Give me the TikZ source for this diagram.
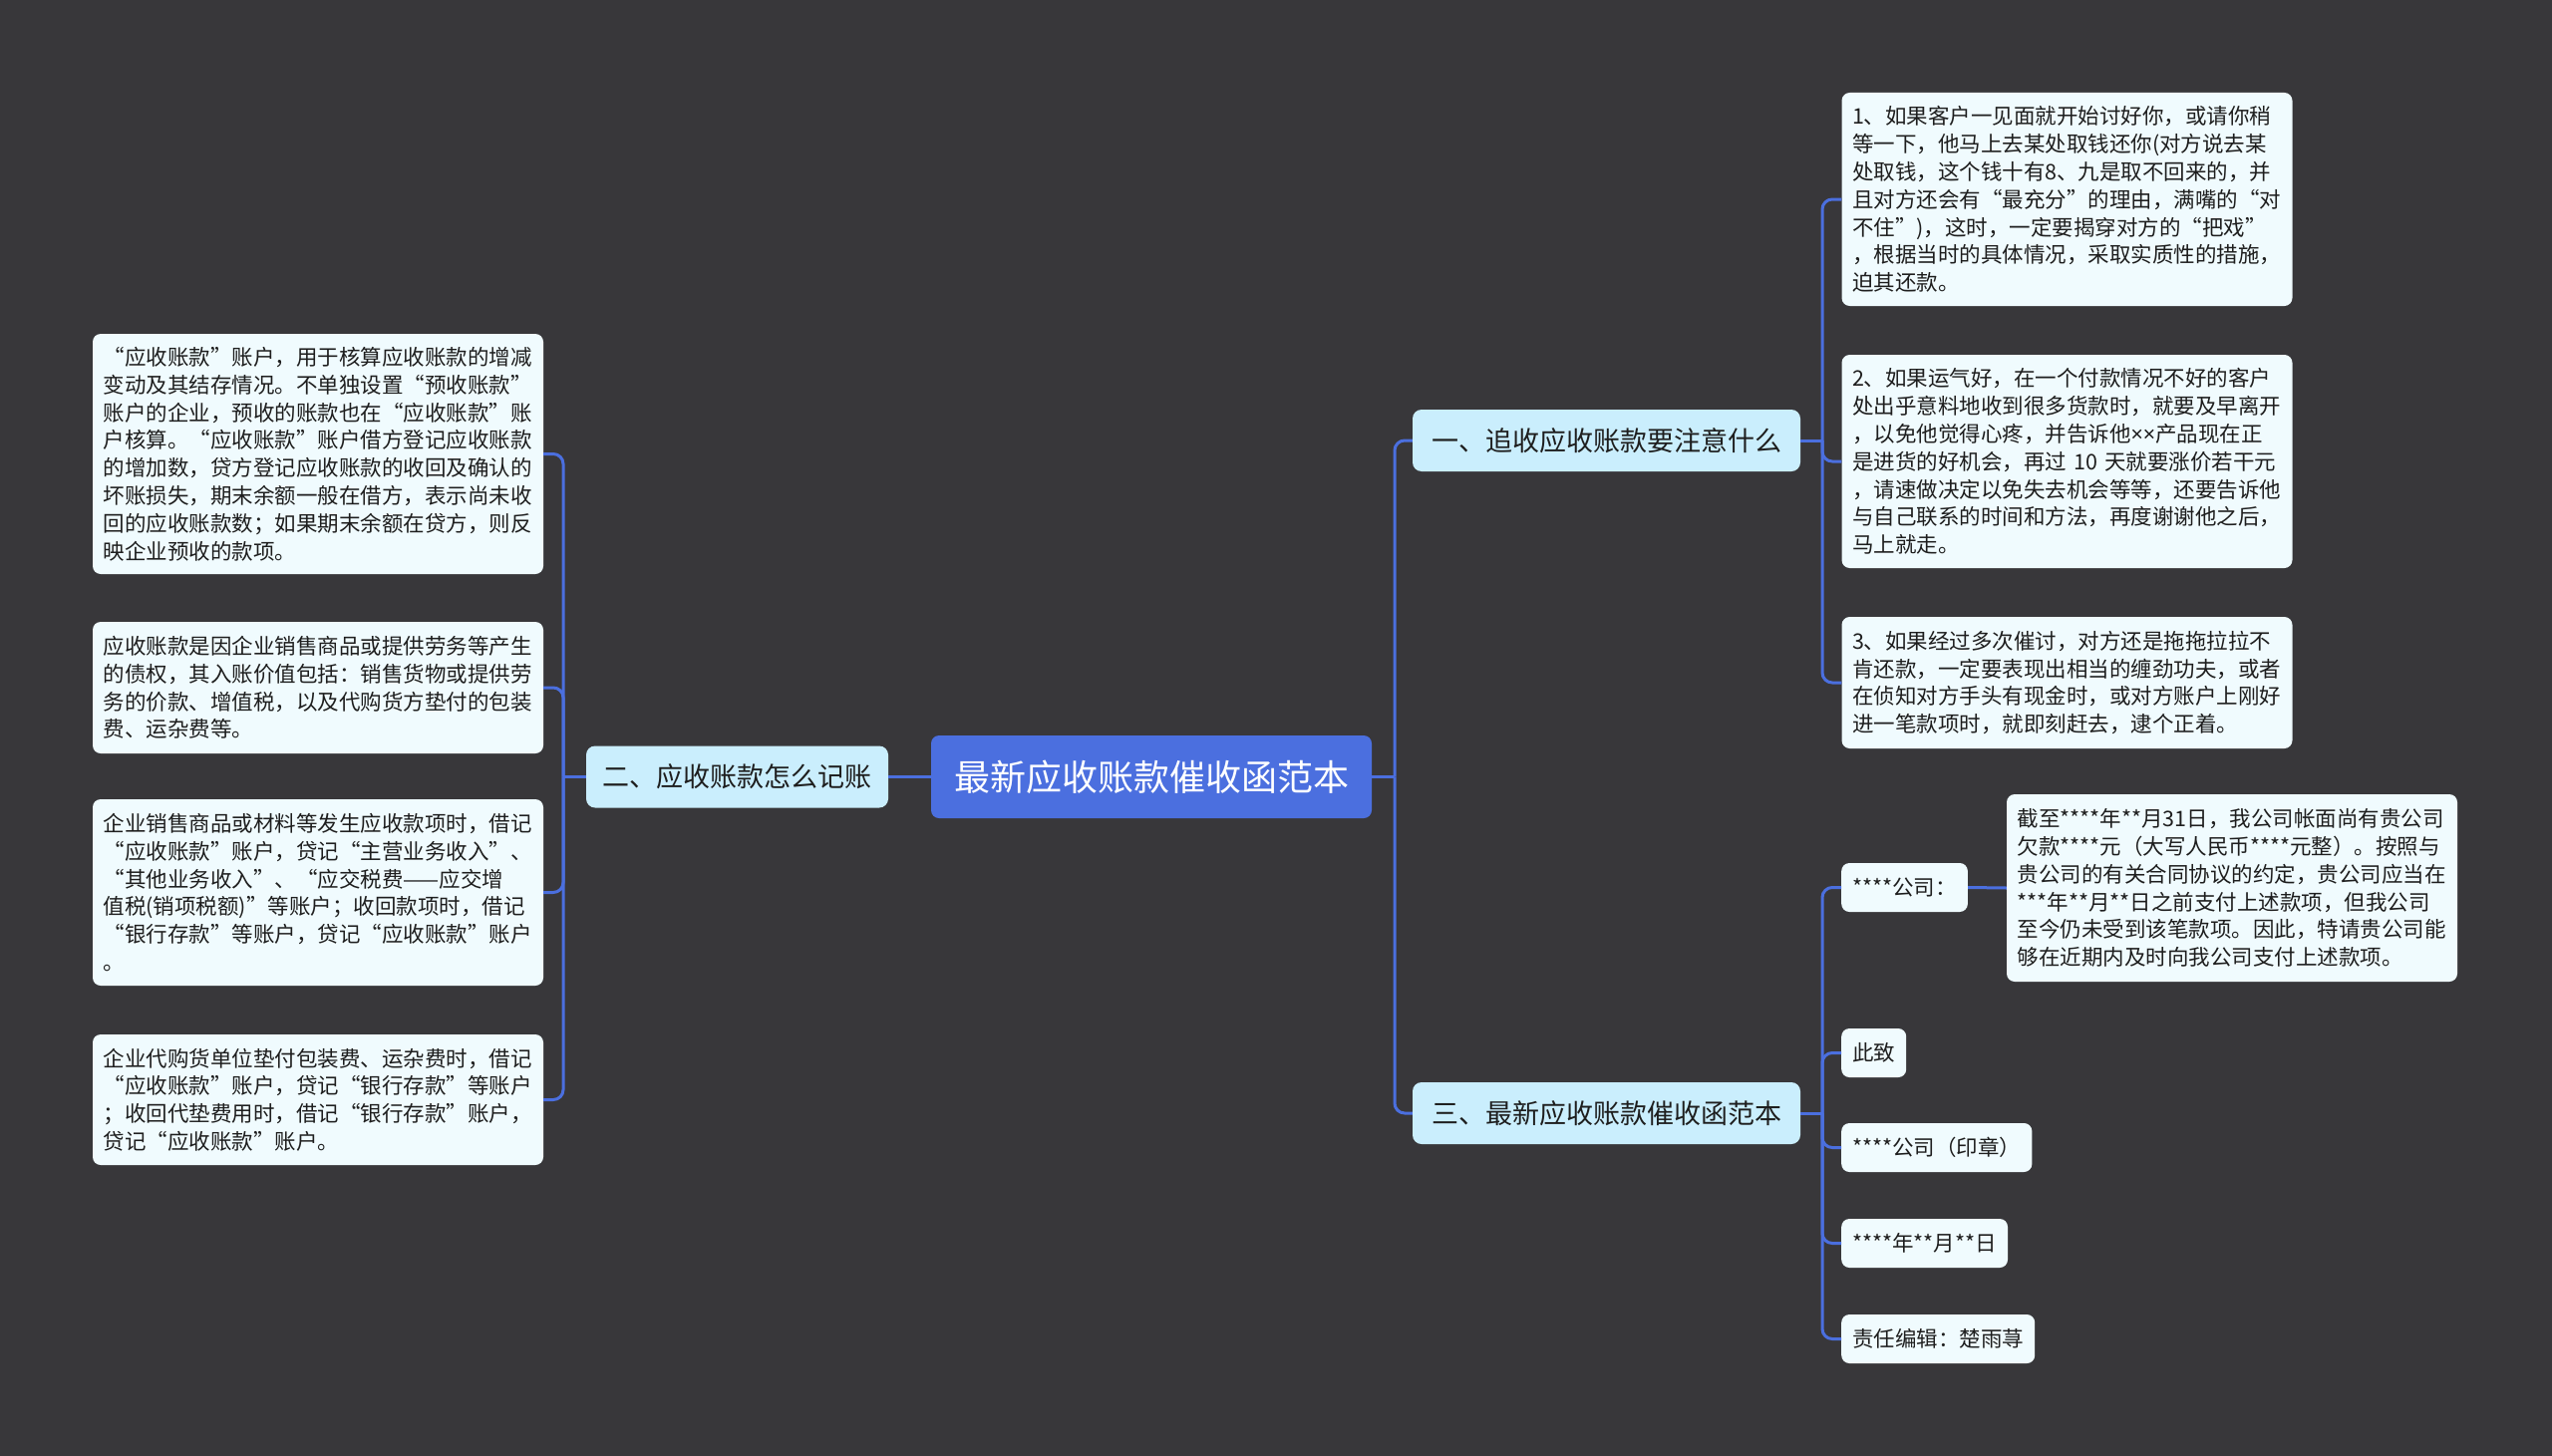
\documentclass[tikz,border=0pt]{standalone}
\usepackage{fontspec}
\setmainfont{Noto Sans CJK SC}
\newfontfamily\latinsans{Noto Sans}
\definecolor{bgc}{HTML}{38373A}
\definecolor{linec}{HTML}{4B6FDF}
\definecolor{rootc}{HTML}{4B6FDF}
\definecolor{branchc}{HTML}{CAEEFD}
\definecolor{leafc}{HTML}{F0FBFE}
\definecolor{txtc}{HTML}{1E1E1E}
\tikzset{
  conn/.style={draw=linec, line width=3pt},
  elbow/.style={draw=linec, line width=3pt, rounded corners=10pt},
  rootbox/.style={fill=rootc, rounded corners=8pt, text=white, minimum width=442pt, minimum height=83pt, inner sep=0pt, font=\fontsize{36}{40}\selectfont},
  branchbox/.style={fill=branchc, rounded corners=9pt, text=txtc, minimum height=62pt, inner sep=0pt, font=\fontsize{27}{32}\selectfont},
  leafbox/.style={fill=leafc, rounded corners=8pt, text=txtc, text width=431pt, align=left, inner xsep=10.5pt, inner ysep=0pt, font=\fontsize{21.5}{27.8}\selectfont},
  smallbox/.style={fill=leafc, rounded corners=8pt, text=txtc, minimum height=49pt, inner xsep=11pt, inner ysep=0pt, anchor=west, font=\fontsize{21.5}{26}\selectfont},
}
\begin{document}
\begin{tikzpicture}[x=1pt,y=-1pt]
\fill[bgc] (0,0) rectangle (2560,1461);
\useasboundingbox (0,0) rectangle (2560,1461);

% root and branches
\node[rootbox] (root) at (1155,779.5) {最新应收账款催收函范本};
\node[branchbox, minimum width=303pt] (b2) at (739.5,779.5) {二、应收账款怎么记账};
\node[branchbox, minimum width=389pt] (b1) at (1611.5,442) {一、追收应收账款要注意什么};
\node[branchbox, minimum width=389pt] (b3) at (1611.5,1117) {三、最新应收账款催收函范本};

% left leaves
\node[leafbox, minimum height=241pt] (l1) at (319,455.5) {“应收账款”账户，用于核算应收账款的增减\\变动及其结存情况。不单独设置“预收账款”\\账户的企业，预收的账款也在“应收账款”账\\户核算。“应收账款”账户借方登记应收账款\\的增加数，贷方登记应收账款的收回及确认的\\坏账损失，期末余额一般在借方，表示尚未收\\回的应收账款数；如果期末余额在贷方，则反\\映企业预收的款项。};
\node[leafbox, minimum height=132pt] (l2) at (319,690) {应收账款是因企业销售商品或提供劳务等产生\\的债权，其入账价值包括：销售货物或提供劳\\务的价款、增值税，以及代购货方垫付的包装\\费、运杂费等。};
\node[leafbox, minimum height=187pt] (l3) at (319,895.5) {企业销售商品或材料等发生应收款项时，借记\\“应收账款”账户，贷记“主营业务收入”、\\“其他业务收入”、“应交税费——应交增\\值税(销项税额)”等账户；收回款项时，借记\\“银行存款”等账户，贷记“应收账款”账户\\。};
\node[leafbox, minimum height=131pt] (l4) at (319,1103.5) {企业代购货单位垫付包装费、运杂费时，借记\\“应收账款”账户，贷记“银行存款”等账户\\；收回代垫费用时，借记“银行存款”账户，\\贷记“应收账款”账户。};

% right leaves of branch 1
\node[leafbox, minimum height=214pt] (r1) at (2073.5,200) {1、如果客户一见面就开始讨好你，或请你稍\\等一下，他马上去某处取钱还你(对方说去某\\处取钱，这个钱十有8、九是取不回来的，并\\且对方还会有“最充分”的理由，满嘴的“对\\不住”)，这时，一定要揭穿对方的“把戏”\\，根据当时的具体情况，采取实质性的措施，\\迫其还款。};
\node[leafbox, minimum height=214pt] (r2) at (2073.5,463) {2、如果运气好，在一个付款情况不好的客户\\处出乎意料地收到很多货款时，就要及早离开\\，以免他觉得心疼，并告诉他{\latinsans ××}产品现在正\\是进货的好机会，再过 10 天就要涨价若干元\\，请速做决定以免失去机会等等，还要告诉他\\与自己联系的时间和方法，再度谢谢他之后，\\马上就走。};
\node[leafbox, minimum height=132pt] (r3) at (2073.5,685) {3、如果经过多次催讨，对方还是拖拖拉拉不\\肯还款，一定要表现出相当的缠劲功夫，或者\\在侦知对方手头有现金时，或对方账户上刚好\\进一笔款项时，就即刻赶去，逮个正着。};

% children of branch 3
\node[smallbox] (c1) at (1847,890.5) {****公司：};
\node[smallbox] (c2) at (1847,1056.5) {此致};
\node[smallbox] (c3) at (1847,1151.5) {****公司（印章）};
\node[smallbox] (c4) at (1847,1247.5) {****年**月**日};
\node[smallbox] (c5) at (1847,1343.5) {责任编辑：楚雨荨};
\node[leafbox, minimum height=188pt] (d1) at (2239,891) {截至****年**月31日，我公司帐面尚有贵公司\\欠款****元（大写人民币****元整）。按照与\\贵公司的有关合同协议的约定，贵公司应当在\\****年**月**日之前支付上述款项，但我公司\\至今仍未受到该笔款项。因此，特请贵公司能\\够在近期内及时向我公司支付上述款项。};

% junctions
\coordinate (j1) at (1399,779.5);
\coordinate (j2) at (565,779.5);
\coordinate (j3) at (1828,442);
\coordinate (j4) at (1828,1117);

% connectors
\draw[conn] (root.west) -- (b2.east);
\draw[conn] (root.east) -- (j1);
\draw[elbow] (j1) |- (b1.west);
\draw[elbow] (j1) |- (b3.west);

\draw[conn] (b2.west) -- (j2);
\draw[elbow] (j2) |- (l1.east);
\draw[elbow] (j2) |- (l2.east);
\draw[elbow] (j2) |- (l3.east);
\draw[elbow] (j2) |- (l4.east);

\draw[conn] (b1.east) -- (j3);
\draw[elbow] (j3) |- (r1.west);
\draw[elbow] (j3) |- (r2.west);
\draw[elbow] (j3) |- (r3.west);

\draw[conn] (b3.east) -- (j4);
\draw[elbow] (j4) |- (c1.west);
\draw[elbow] (j4) |- (c2.west);
\draw[elbow] (j4) |- (c3.west);
\draw[elbow] (j4) |- (c4.west);
\draw[elbow] (j4) |- (c5.west);

\draw[conn] (c1.east) -- (d1.west);
\end{tikzpicture}
\end{document}
